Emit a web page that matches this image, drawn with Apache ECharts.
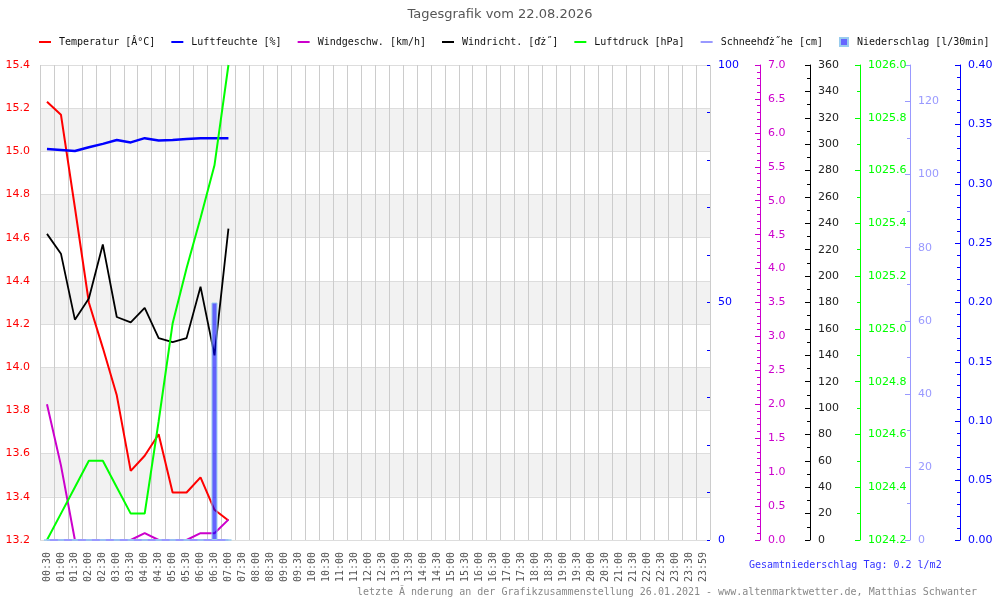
<!DOCTYPE html>
<html>
<head>
<meta charset="utf-8">
<title>Tagesgrafik</title>
<script src="https://cdn.jsdelivr.net/npm/echarts@6/dist/echarts.min.js"></script>
<style>
  html, body { margin: 0; padding: 0; background: #fff; }
  #chart { width: 1000px; height: 600px; }
</style>
</head>
<body>
<div id="chart"></div>
<script>
// Zeitachse (halbstündlich)
var times = ['00:30','01:00','01:30','02:00','02:30','03:00','03:30','04:00','04:30','05:00',
    '05:30','06:00','06:30','07:00','07:30','08:00','08:30','09:00','09:30','10:00',
    '10:30','11:00','11:30','12:00','12:30','13:00','13:30','14:00','14:30','15:00',
    '15:30','16:00','16:30','17:00','17:30','18:00','18:30','19:00','19:30','20:00',
    '20:30','21:00','21:30','22:00','22:30','23:00','23:30','23:59'];

// Messwerte 00:30 - 07:00
var temperatur = [15.23, 15.17, 14.74, 14.30, 14.09, 13.87, 13.52, 13.59, 13.69, 13.42, 13.42, 13.49, 13.34, 13.29];
var luftfeuchte = [82.3, 82.1, 81.9, 82.7, 83.4, 84.2, 83.7, 84.6, 84.1, 84.2, 84.4, 84.6, 84.6, 84.6];
var windgeschw = [2.0, 1.1, 0, 0, 0, 0, 0, 0.1, 0, 0, 0, 0.1, 0.1, 0.3];
var windricht = [232, 217, 167, 183, 224, 169, 165, 176, 153, 150, 153, 192, 140, 236];
var luftdruck = [1024.2, 1024.3, 1024.4, 1024.5, 1024.5, 1024.4, 1024.3, 1024.3, 1024.65, 1025.02, 1025.23, 1025.42, 1025.62, 1026.0];
var schneehoehe = [0, 0, 0, 0, 0, 0, 0, 0, 0, 0, 0, 0, 0, 0];
var niederschlag = [0, 0, 0, 0, 0, 0, 0, 0, 0, 0, 0, 0, 0.2, 0];

var names = ['Temperatur [Â°C]', 'Luftfeuchte [%]', 'Windgeschw. [km/h]', 'Windricht. [ďż˝]',
    'Luftdruck [hPa]', 'Schneehďż˝he [cm]', 'Niederschlag [l/30min]'];

var mono = 'DejaVu Sans Mono';
var sans = 'DejaVu Sans';

// rechte Achsen, alle gleich aufgebaut
function rightAxis(offset, color, min, max, interval, minorSplit, digits, labelColor, hideMax) {
    return {
        type: 'value', position: 'right', offset: offset,
        min: min, max: max, interval: interval,
        axisLine: { show: true, lineStyle: { color: color, width: 1 } },
        axisTick: { show: true, inside: true, length: 5, lineStyle: { color: color } },
        minorTick: { show: true, splitNumber: minorSplit, length: 3, lineStyle: { color: color } },
        splitLine: { show: false },
        axisLabel: {
            color: labelColor || color, fontSize: 11, fontFamily: sans, margin: 8,
            formatter: function (v) {
                if (hideMax && v > max - 1e-9) return '';
                return v.toFixed(digits);
            }
        }
    };
}

var option = {
    backgroundColor: '#fff',
    animation: false,
    textStyle: { fontFamily: sans },
    title: {
        text: 'Tagesgrafik vom 22.08.2026',
        left: 'center', top: 3,
        textStyle: { fontSize: 13, fontWeight: 'normal', color: '#555', fontFamily: sans }
    },
    legend: [{
        left: 34, top: 32,
        icon: 'rect', itemWidth: 12, itemHeight: 2, itemGap: 16,
        textStyle: { fontFamily: mono, fontSize: 10, color: '#111', padding: [0, 0, 0, 3] },
        data: names.slice(0, 6)
    }, {
        left: 834, top: 32,
        icon: 'rect', itemWidth: 8, itemHeight: 8,
        textStyle: { fontFamily: mono, fontSize: 10, color: '#111', padding: [0, 0, 0, 4] },
        data: [names[6]]
    }],
    grid: { left: 40, right: 290, top: 65, bottom: 60 },
    xAxis: {
        type: 'category',
        data: times,
        boundaryGap: true,
        axisLine: { show: false },
        axisTick: { show: false },
        splitLine: { show: true, interval: 0, lineStyle: { color: '#cccccc' } },
        axisLabel: { interval: 0, rotate: 90, margin: 12, fontFamily: mono, fontSize: 10, color: '#555' }
    },
    yAxis: [{
        type: 'value', position: 'left',
        min: 13.2, max: 15.4, interval: 0.2,
        axisLine: { show: false },
        axisTick: { show: false },
        splitLine: { show: true, lineStyle: { color: '#dddddd' } },
        splitArea: { show: true, areaStyle: { color: ['#ffffff', '#f2f2f2'] } },
        axisLabel: { color: '#ff0000', fontSize: 11, fontFamily: sans, margin: 10,
            formatter: function (v) { return v.toFixed(1); } }
    }, {
        type: 'value', position: 'right', offset: 0,
        min: 0, max: 100, interval: 10,
        axisLine: { show: false },
        axisTick: { show: true, inside: true, length: 3, lineStyle: { color: '#0000ff' } },
        splitLine: { show: false },
        axisLabel: { color: '#0000ff', fontSize: 11, fontFamily: sans, margin: 8,
            formatter: function (v) { return v % 50 === 0 ? String(v) : ''; } }
    },
        rightAxis(50, '#cc00cc', 0, 7, 0.5, 5, 1),
        rightAxis(100, '#000000', 0, 360, 20, 2, 0, '#222'),
        rightAxis(150, '#00ff00', 1024.2, 1026.0, 0.2, 2, 1),
        rightAxis(200, '#9999ff', 0, 130, 20, 2, 0, null, true),
        rightAxis(250, '#0000ff', 0, 0.4, 0.05, 5, 2)
    ],
    series: [{
        name: names[0], type: 'line', yAxisIndex: 0, data: temperatur,
        color: '#ff0000', symbol: 'none', lineStyle: { width: 2 }
    }, {
        name: names[1], type: 'line', yAxisIndex: 1, data: luftfeuchte,
        color: '#0000ff', symbol: 'none', lineStyle: { width: 2.5 }
    }, {
        name: names[2], type: 'line', yAxisIndex: 2, data: windgeschw,
        color: '#cc00cc', symbol: 'none', lineStyle: { width: 2 }
    }, {
        name: names[3], type: 'line', yAxisIndex: 3, data: windricht,
        color: '#000000', symbol: 'none', lineStyle: { width: 1.8 }
    }, {
        name: names[4], type: 'line', yAxisIndex: 4, data: luftdruck,
        color: '#00ff00', symbol: 'none', lineStyle: { width: 2 }
    }, {
        name: names[5], type: 'line', yAxisIndex: 5, data: schneehoehe,
        color: '#9999ff', symbol: 'none', lineStyle: { width: 2 }
    }, {
        name: names[6], type: 'bar', yAxisIndex: 6, data: niederschlag,
        color: '#6666ff', barWidth: 6, z: 5,
        itemStyle: { color: 'rgba(0,0,255,0.6)', borderColor: '#99ccee', borderWidth: 1 }
    }],
    graphic: [{
        type: 'text', left: 749, top: 560,
        style: { text: 'Gesamtniederschlag Tag: 0.2 l/m2', fill: '#3333ff', font: '10px "DejaVu Sans Mono"' }
    }, {
        type: 'text', right: 23, top: 587,
        style: { text: 'letzte Ă nderung an der Grafikzusammenstellung 26.01.2021 - www.altenmarktwetter.de, Matthias Schwanter',
            fill: '#888', font: '10px "DejaVu Sans Mono"' }
    }]
};

var chart = echarts.init(document.getElementById('chart'));
chart.setOption(option);
</script>
</body>
</html>
